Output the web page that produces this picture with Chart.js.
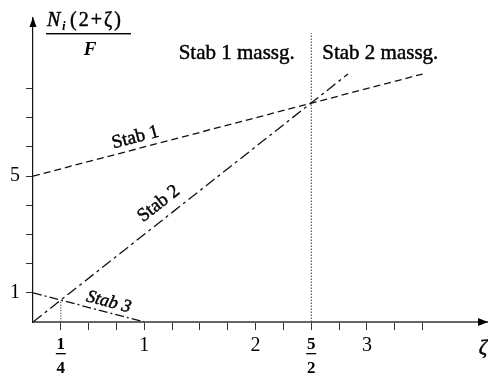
<!DOCTYPE html>
<html>
<head>
<meta charset="utf-8">
<script src="https://cdn.jsdelivr.net/npm/chart.js@4"></script>
<style>
  html, body { margin: 0; padding: 0; background: #fff; }
  #wrap { width: 488px; height: 387px; }
</style>
</head>
<body>
<div id="wrap"><canvas id="c" width="488" height="387"></canvas></div>
<script>
// Load-line segments of the three bars, N_i(2+ζ)/F against ζ
const zetaStab1 = [0, 3.5];
const valueStab1 = [5, 8.5];
const zetaStab2 = [0, 2.83];
const valueStab2 = [0, 8.5];
const zetaStab3 = [0, 1];
const valueStab3 = [1, 0];

// Dotted guide lines: switch-over at ζ = 5/2 and crossing at ζ = 1/4
const zetaSwitch = [2.5, 2.5];
const valueSwitch = [0, 9.9];
const zetaCross = [0.25, 0.25];
const valueCross = [0, 0.75];

// Axis ticks and their labels
const xTickValues = [0.25, 0.5, 0.75, 1, 1.25, 1.5, 1.75, 2, 2.25, 2.5, 2.75, 3, 3.25, 3.5];
const xTickLabels = { 1: '1', 2: '2', 3: '3' };
const xFractionTicks = [0.25, 2.5];
const xFractionLabels = [['1', '4'], ['5', '2']];
const yTickValues = [1, 2, 3, 4, 5, 6, 7, 8];
const yTickLabels = { 1: '1', 5: '5' };

// Line names and region names
const lineNames = ['Stab 1', 'Stab 2', 'Stab 3'];
const regionNames = ['Stab 1 massg.', 'Stab 2 massg.'];

const SERIF = '"Liberation Serif", "Times New Roman", serif';

const toPoints = (xs, ys) => xs.map((x, i) => ({ x, y: ys[i] }));

function lineSet(xs, ys, dash, width, color) {
  return {
    data: toPoints(xs, ys),
    showLine: true,
    borderColor: color || '#111',
    borderWidth: width || 1.3,
    borderDash: dash,
    pointRadius: 0,
    fill: false,
    tension: 0
  };
}

// filled text with a hairline outline, for a slightly heavier print look
function heavyText(ctx, text, px, py) {
  ctx.fillText(text, px, py);
  ctx.strokeText(text, px, py);
}

const overlay = {
  id: 'overlay',
  afterDraw(chart) {
    const { ctx, chartArea: a, scales: { x, y } } = chart;
    ctx.save();
    ctx.fillStyle = '#000';
    ctx.strokeStyle = '#000';
    ctx.lineWidth = 0.45;
    ctx.lineJoin = 'round';

    // arrow heads on both axes
    ctx.beginPath();
    ctx.moveTo(a.right, a.bottom);
    ctx.lineTo(a.right - 10, a.bottom - 4);
    ctx.lineTo(a.right - 10, a.bottom + 4);
    ctx.closePath();
    ctx.fill();
    ctx.beginPath();
    ctx.moveTo(a.left, a.top - 1);
    ctx.lineTo(a.left - 3.5, a.top + 9);
    ctx.lineTo(a.left + 3.5, a.top + 9);
    ctx.closePath();
    ctx.fill();

    // fraction tick labels 1/4 and 5/2
    ctx.textAlign = 'center';
    ctx.textBaseline = 'alphabetic';
    ctx.font = 'bold 17px ' + SERIF;
    xFractionTicks.forEach((v, i) => {
      const px = x.getPixelForValue(v);
      const [num, den] = xFractionLabels[i];
      ctx.fillText(num, px, 349);
      ctx.fillRect(px - 5, 353, 10, 1.3);
      ctx.fillText(den, px, 373);
    });

    // axis name ζ
    ctx.font = 'italic 21px ' + SERIF;
    heavyText(ctx, 'ζ', 483, 354);

    // y-axis title N_i(2+ζ)/F
    ctx.textAlign = 'left';
    ctx.font = 'italic 20px ' + SERIF;
    heavyText(ctx, 'N', 47, 26);
    ctx.font = 'italic bold 13px ' + SERIF;
    ctx.fillText('i', 62, 30);
    ctx.font = '20px ' + SERIF;
    if ('letterSpacing' in ctx) ctx.letterSpacing = '2px';
    heavyText(ctx, '(2+ζ)', 70, 26);
    if ('letterSpacing' in ctx) ctx.letterSpacing = '0px';
    ctx.fillRect(46, 33, 85, 1.4);
    ctx.font = 'italic bold 19px ' + SERIF;
    ctx.textAlign = 'center';
    ctx.fillText('F', 90, 55);

    // region names either side of ζ = 5/2
    ctx.font = '21px ' + SERIF;
    heavyText(ctx, regionNames[0], x.getPixelForValue(1.83), y.getPixelForValue(9.0));
    heavyText(ctx, regionNames[1], x.getPixelForValue(3.12), y.getPixelForValue(9.0));

    // line names written along their lines
    const along = (text, font, zx, zy, slopeFrom, slopeTo) => {
      const ang = Math.atan2(
        y.getPixelForValue(slopeTo[1]) - y.getPixelForValue(slopeFrom[1]),
        x.getPixelForValue(slopeTo[0]) - x.getPixelForValue(slopeFrom[0])
      );
      ctx.save();
      ctx.translate(x.getPixelForValue(zx), y.getPixelForValue(zy));
      ctx.rotate(ang);
      ctx.font = font;
      ctx.textAlign = 'center';
      ctx.textBaseline = 'middle';
      heavyText(ctx, text, 0, 0);
      ctx.restore();
    };
    along(lineNames[0], '19px ' + SERIF, 0.92, 6.32,
      [zetaStab1[0], valueStab1[0]], [zetaStab1[1], valueStab1[1]]);
    along(lineNames[1], '19px ' + SERIF, 1.13, 4.05,
      [zetaStab2[0], valueStab2[0]], [zetaStab2[1], valueStab2[1]]);
    along(lineNames[2], 'italic 18px ' + SERIF, 0.68, 0.68,
      [zetaStab3[0], valueStab3[0]], [zetaStab3[1], valueStab3[1]]);

    ctx.restore();
  }
};

new Chart(document.getElementById('c'), {
  type: 'scatter',
  data: {
    datasets: [
      lineSet(zetaStab1, valueStab1, [7, 4]),
      lineSet(zetaStab2, valueStab2, [11, 4, 3, 4]),
      lineSet(zetaStab3, valueStab3, [9, 3, 2, 3]),
      lineSet(zetaSwitch, valueSwitch, [1.5, 1.5], 1, '#333'),
      lineSet(zetaCross, valueCross, [1.2, 1.5], 1, '#333')
    ]
  },
  options: {
    responsive: false,
    animation: false,
    devicePixelRatio: 1,
    layout: { padding: { top: 12, right: 0, bottom: 0, left: 0 } },
    plugins: { legend: { display: false }, tooltip: { enabled: false } },
    scales: {
      x: {
        type: 'linear',
        min: 0,
        max: 4.088,
        afterFit: s => { s.height = 65; },
        afterBuildTicks: s => { s.ticks = xTickValues.map(v => ({ value: v })); },
        grid: { drawOnChartArea: false, drawTicks: true, tickLength: 8, color: '#333', lineWidth: 1 },
        border: { display: true, color: '#666', width: 2 },
        ticks: {
          autoSkip: false,
          maxRotation: 0,
          padding: 4,
          color: '#000',
          font: { family: SERIF, size: 20 },
          callback: v => xTickLabels[v] ?? ''
        }
      },
      y: {
        type: 'linear',
        min: 0,
        max: 10.42,
        afterFit: s => { s.width = 33; },
        afterBuildTicks: s => { s.ticks = yTickValues.map(v => ({ value: v })); },
        grid: { drawOnChartArea: false, drawTicks: true, tickLength: 7, color: '#333', lineWidth: 1 },
        border: { display: true, color: '#111', width: 1.2 },
        ticks: {
          autoSkip: false,
          padding: 6,
          color: '#000',
          font: { family: SERIF, size: 20 },
          callback: v => yTickLabels[v] ?? ''
        }
      }
    }
  },
  plugins: [overlay]
});
</script>
</body>
</html>
